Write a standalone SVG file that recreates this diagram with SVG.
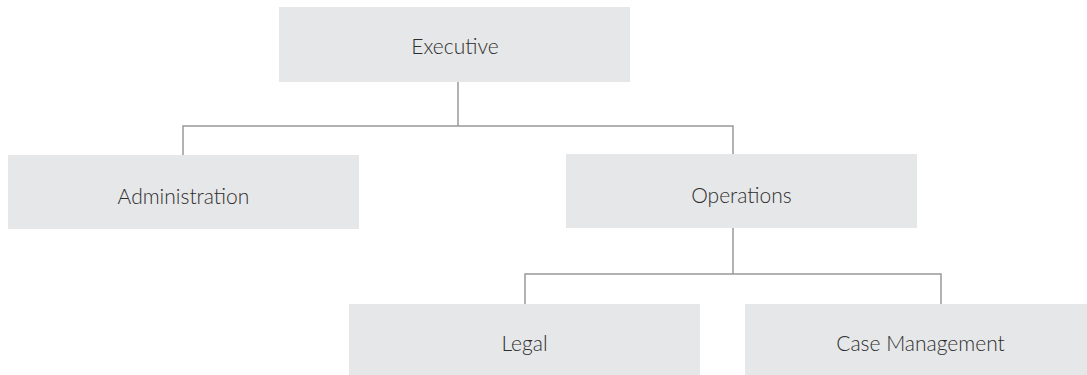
<svg xmlns="http://www.w3.org/2000/svg" width="1087" height="375" viewBox="0 0 1087 375">
<style>
.box{fill:#e6e7e8}
.lbl{font-family:Lato,"Open Sans",sans-serif;font-weight:300;font-size:21px;fill:#2e2e2e;text-anchor:middle}
.con{fill:none;stroke:#999;stroke-width:1.5}
</style>
<rect width="1087" height="375" fill="#fff"/>
<g id="connectors">
<path class="con" d="M458 82V126M183 155V126H733V154"/>
<path class="con" d="M733 228V274M525 304V274H941V304"/>
</g>
<g id="executive"><rect class="box" x="279" y="7" width="351" height="75"/><text class="lbl" x="455" y="54">Executive</text></g>
<g id="administration"><rect class="box" x="8" y="155" width="351" height="74"/><text class="lbl" x="183.5" y="204">Administration</text></g>
<g id="operations"><rect class="box" x="566" y="154" width="351" height="74"/><text class="lbl" x="741.5" y="203">Operations</text></g>
<g id="legal"><rect class="box" x="349" y="304" width="351" height="71"/><text class="lbl" x="524.5" y="351">Legal</text></g>
<g id="case-management"><rect class="box" x="745" y="304" width="351" height="71"/><text class="lbl" x="920.5" y="351">Case Management</text></g>
</svg>
